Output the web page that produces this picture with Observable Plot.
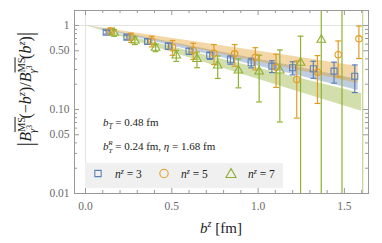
<!DOCTYPE html>
<html><head><meta charset="utf-8">
<script src="https://cdn.jsdelivr.net/npm/d3@7"></script>
<script src="https://cdn.jsdelivr.net/npm/@observablehq/plot@0.6"></script>
<style>body{margin:0;background:#fff} svg{display:block}</style>
</head><body><div id="chart"></div>
<script>
// ---- data ----
const bz = [0.12,0.24,0.36,0.48,0.60,0.72,0.84,0.96,1.08,1.20,1.32,1.44,1.56];
const n3 = [0.832,0.726,0.645,0.567,0.494,0.439,0.391,0.360,0.328,0.314,0.305,0.286,0.249];
const n3err = [0.040,0.040,0.046,0.047,0.042,0.044,0.045,0.047,0.053,0.056,0.070,0.080,0.090];
const n5 = [0.860,0.719,0.650,0.552,0.504,0.468,0.460,0.420,0.319,0.228,0.278,0.449,0.694];
const n5err = [0.074,0.090,0.094,0.110,0.110,0.125,0.133,0.124,0.136,0.149,0.160,0.205,0.290];
const n7 = [0.818,0.663,0.543,0.439,0.399,0.334,0.291,0.283,0.291,0.360,0.675,1.9,2.2];
const n7err = [0.075,0.070,0.055,0.065,0.085,0.100,0.110,0.160,0.220,0.386,1.2,2.5,3.0];
const dodge = {3: 0, 5: 0.024, 7: 0.046};

// fit bands
const band3B = [0,0.4,0.8,1.2,1.58];
const band3Lo = [1,0.640,0.410,0.263,0.168];
const band3Hi = [1,0.691,0.477,0.329,0.228];
const band5B = [0,0.4,0.8,1.2,1.58];
const band5Lo = [1,0.672,0.452,0.304,0.204];
const band5Hi = [1,0.754,0.570,0.431,0.325];
const band7B = [0,0.4,0.8,1.2,1.6];
const band7Lo = [1,0.555,0.308,0.171,0.095];
const band7Hi = [1,0.628,0.394,0.247,0.155];

const xTicks = [0,0.5,1,1.5];
const xTickLabels = ["0.0","0.5","1.0","1.5"];
const xMinor = [0.1,0.2,0.3,0.4,0.6,0.7,0.8,0.9,1.1,1.2,1.3,1.4,1.6];
const yTicks = [0.01,0.05,0.1,0.5,1];
const yTickLabels = ["0.01","0.05","0.10","0.50","1"];
const yMinor = [0.02,0.03,0.04,0.06,0.07,0.08,0.09,0.2,0.3,0.4,0.6,0.7,0.8,0.9];

const C3 = "#5E81B5", C5 = "#E19C24", C7 = "#8FB032";
const FONT = "'Liberation Serif', 'DejaVu Serif', serif";

// ---- build tables ----
const pts = (n, vals, errs) => bz.map((b,i)=>({n, b: b + dodge[n], v: vals[i], e: errs[i],
  lo: Math.max(vals[i]-errs[i], 0.001), hi: vals[i]+errs[i], last: n===7 && i===bz.length-1}));
const P3 = pts(3,n3,n3err), P5 = pts(5,n5,n5err), P7 = pts(7,n7,n7err);
const band = (B,L,H) => B.map((b,i)=>({b, lo:L[i], hi:H[i]}));
const B3 = band(band3B,band3Lo,band3Hi), B5 = band(band5B,band5Lo,band5Hi), B7 = band(band7B,band7Lo,band7Hi);

const W = 382, H = 243, mL = 74, mR = 14, mT = 10, mB = 50;
const FW = W-mL-mR, FH = H-mT-mB;
const capW = 0.017;
const TC = "#999";

function errMarks(P, c){
  return [
    Plot.ruleX(P, {x:"b", y1:"lo", y2:"hi", stroke:c, strokeWidth:1.2, strokeOpacity: d=>d.last?0.55:1, clip:true}),
    Plot.link(P, {x1:d=>d.b-capW, x2:d=>d.b+capW, y1:"hi", y2:"hi", stroke:c, strokeWidth:1.2, clip:true}),
    Plot.link(P, {x1:d=>d.b-capW, x2:d=>d.b+capW, y1:"lo", y2:"lo", stroke:c, strokeWidth:1.2, clip:true})
  ];
}

const plot = Plot.plot({
  width: W, height: H, marginLeft: mL, marginRight: mR, marginTop: mT, marginBottom: mB,
  style: {fontFamily: FONT, fontSize: "11.5px", color: "#6a6a6a", background: "#fff"},
  x: {domain: [-0.0637, 1.6396]},
  y: {type: "log", domain: [0.01, 1.508]},
  marks: [
    Plot.ruleY([1], {stroke:"#e4e4e4", strokeWidth:1}),
    Plot.ruleX([0], {stroke:"#e4e4e4", strokeWidth:1}),
    Plot.areaY(B7, {x:"b", y1:"lo", y2:"hi", fill:C7, fillOpacity:0.4}),
    Plot.areaY(B3, {x:"b", y1:"lo", y2:"hi", fill:C3, fillOpacity:0.4}),
    Plot.areaY(B5, {x:"b", y1:"lo", y2:"hi", fill:C5, fillOpacity:0.4}),
    ...errMarks(P3, C3), ...errMarks(P5, C5), ...errMarks(P7, C7),
    Plot.dot(P3, {x:"b", y:"v", symbol:"square", r:3.4, stroke:C3, strokeWidth:1.1, fill:"none", clip:true}),
    Plot.dot(P5, {x:"b", y:"v", symbol:"circle", r:3.2, stroke:C5, strokeWidth:1.1, fill:"none", clip:true}),
    Plot.dot(P7, {x:"b", y:"v", symbol:"triangle", r:3.2, stroke:C7, strokeWidth:1.1, fill:"none", clip:true}),
    Plot.frame({stroke:TC, strokeWidth:1}),
    // inward ticks
    Plot.tickX(xTicks, {x:d=>d, insetTop:FH-5, stroke:TC}),
    Plot.tickX(xTicks, {x:d=>d, insetBottom:FH-5, stroke:TC}),
    Plot.tickX(xMinor, {x:d=>d, insetTop:FH-3, stroke:TC}),
    Plot.tickX(xMinor, {x:d=>d, insetBottom:FH-3, stroke:TC}),
    Plot.tickY(yTicks, {y:d=>d, insetRight:FW-5, stroke:TC}),
    Plot.tickY(yTicks, {y:d=>d, insetLeft:FW-5, stroke:TC}),
    Plot.tickY(yMinor, {y:d=>d, insetRight:FW-3, stroke:TC}),
    Plot.tickY(yMinor, {y:d=>d, insetLeft:FW-3, stroke:TC}),
    Plot.axisX({ticks: xTicks, tickSize: 0, tickPadding: 8, label: null,
      tickFormat: d => xTickLabels[xTicks.indexOf(d)]}),
    Plot.axisY({ticks: yTicks, tickSize: 0, tickPadding: 5, label: null,
      tickFormat: d => yTickLabels[yTicks.findIndex(t=>Math.abs(t-d)<1e-9)]})
  ]
});
document.getElementById("chart").appendChild(plot);

// ---- rich text helpers ----
const svg = d3.select(plot);
function rich(sel, parts){
  let cur = 0;
  for (const p of parts){
    const off = p.off || 0;
    const t = sel.append("tspan").text(p.t).attr("dy", off-cur);
    cur = off;
    if (p.size) t.attr("font-size", p.size);
    if (p.it) t.attr("font-style", "italic");
    if (p.dx) t.attr("dx", p.dx);
    if (p.ov) t.attr("text-decoration", "overline");
  }
}
const TXT = "#222";
const sx = plot.scale("x");
function txt(x, y, size, anchor){
  return svg.append("text").attr("x", x).attr("y", y).attr("text-anchor", anchor || "start")
    .attr("font-family", FONT).attr("font-size", size).attr("fill", TXT);
}

// y label
const yl = svg.append("text").attr("transform", `translate(31,${89}) rotate(-90)`)
  .attr("text-anchor","middle").attr("font-family",FONT).attr("font-size",16).attr("fill",TXT);
const Bpart = [{t:"B", it:1}, {t:"MS", size:10.5, off:-6.5, ov:1}, {t:"γ", size:10.5, off:4.5, dx:-16, it:1}, {t:"3", size:7.5, off:1}];
rich(yl, [{t:"|", size:23, off:2}, ...Bpart, {t:"(−", dx:6.5, off:0}, {t:"b", it:1}, {t:"z", size:10.5, it:1, off:-6.5},
  {t:")/", off:0}, ...Bpart, {t:"(", dx:6.5, off:0}, {t:"b", it:1}, {t:"z", size:10.5, it:1, off:-6.5}, {t:")", off:0},
  {t:"|", size:23, off:2}]);

// x label
const xl = txt(221, 233, 15, "middle");
rich(xl, [{t:"b", it:1}, {t:"z", size:10, it:1, off:-6}, {t:" [fm]", off:0}]);

// annotations
const a1 = txt(sx.apply(0.104), 126, 11);
rich(a1, [{t:"b", it:1}, {t:"T", size:7.5, it:1, off:2.5}, {t:" = 0.48 fm", off:0}]);
const a2 = txt(sx.apply(0.104), 150, 11);
rich(a2, [{t:"b", it:1}, {t:"T", size:7, it:1, off:3}, {t:"R", size:7, it:1, off:-5, dx:-4.2},
  {t:" = 0.24 fm, ", off:0}, {t:"η", it:1}, {t:" = 1.68 fm"}]);

// legend
const lg = svg.append("g");
lg.append("rect").attr("x", 85).attr("y", 163).attr("width", 198).attr("height", 25).attr("fill", "#f0f0f0");
const leg = [{n:"3", c:C3, s:d3.symbolSquare, x:98}, {n:"5", c:C5, s:d3.symbolCircle, x:164}, {n:"7", c:C7, s:d3.symbolTriangle, x:231}];
for (const L of leg){
  const sz = L.s === d3.symbolCircle ? 55 : (L.s === d3.symbolSquare ? 40 : 45);
  lg.append("path").attr("d", d3.symbol(L.s, sz)()).attr("transform", `translate(${L.x},${L.s===d3.symbolTriangle?174.5:173.5})`)
    .attr("fill","none").attr("stroke", L.c).attr("stroke-width", 1.1);
  const t = txt(L.x + 17, 178, 11.5);
  rich(t, [{t:"n", it:1}, {t:"z", size:8, it:1, off:-4.5}, {t:" = " + L.n, off:0}]);
}
</script>
</body></html>
